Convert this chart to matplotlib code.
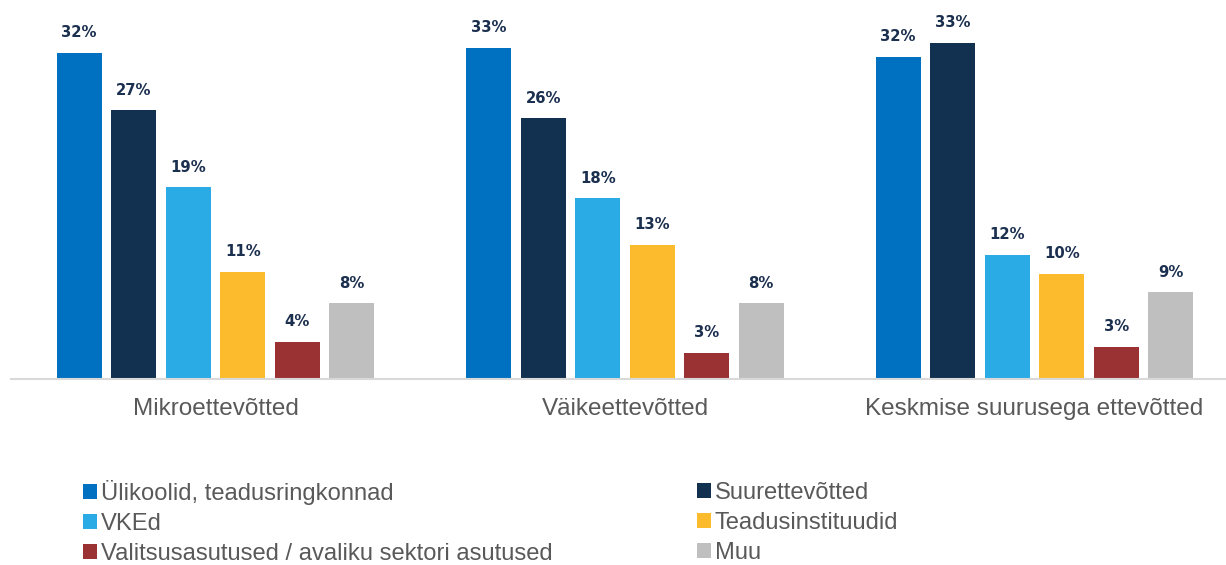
import numpy as np
import matplotlib
matplotlib.use("Agg")
import matplotlib.pyplot as plt

categories = ["Mikroettevõtted", "Väikeettevõtted", "Keskmise suurusega ettevõtted"]
series_names = [
    "Ülikoolid, teadusringkonnad",
    "Suurettevõtted",
    "VKEd",
    "Teadusinstituudid",
    "Valitsusasutused / avaliku sektori asutused",
    "Muu",
]
ulikoolid = [32.3, 32.8, 31.9]
suurettevotted = [26.6, 25.8, 33.3]
vked = [19.0, 17.9, 12.3]
teadusinst = [10.6, 13.3, 10.4]
valitsus = [3.7, 2.6, 3.2]
muu = [7.5, 7.5, 8.6]
series_values = [ulikoolid, suurettevotted, vked, teadusinst, valitsus, muu]
colors = ["#0070C0", "#12304F", "#2BABE6", "#FBBB2D", "#9A3234", "#BFBFBF"]

W, H = 1226, 565
fig = plt.figure(figsize=(W / 100, H / 100), dpi=100)
ax = fig.add_axes([11 / W, 186 / H, (W - 11) / W, 363.6 / H])

x = np.arange(len(categories))
pitch = 0.1331
width = 0.1099
handles = []
for i, (name, vals, col) in enumerate(zip(series_names, series_values, colors)):
    pos = x + (i - 2.5) * pitch
    bars = ax.bar(pos, vals, width, color=col, label=name)
    handles.append(bars)
    for b, v in zip(bars, vals):
        ax.annotate(f"{v:.0f}%", (b.get_x() + b.get_width() / 2, v),
                    xytext=(0, 9), textcoords="offset points",
                    ha="center", va="bottom", fontsize=10.7,
                    fontweight="bold", color="#1B2F4E", family="DejaVu Sans")

ax.set_xlim(-0.4994, 2.4677)
ax.set_ylim(0, 36)
ax.set_xticks(x)
ax.set_xticklabels(categories, fontsize=17.5, color="#595959", family="Liberation Sans")
ax.tick_params(axis="x", length=0, pad=14)
ax.set_yticks([])
for s in ["top", "right", "left"]:
    ax.spines[s].set_visible(False)
ax.spines["bottom"].set_color("#D9D9D9")
ax.spines["bottom"].set_linewidth(1.5)

leg_kw = dict(frameon=False, loc="upper left", borderaxespad=0, borderpad=0,
              handlelength=0.6, handleheight=0.6, handletextpad=0.15,
              labelspacing=0.34, labelcolor="#595959",
              prop={"family": "Liberation Sans", "size": 17.1})
leg1 = fig.legend([handles[0], handles[2], handles[4]],
                  [series_names[0], series_names[2], series_names[4]],
                  bbox_to_anchor=(83 / W, 1 - 480 / H), **leg_kw)
leg2 = fig.legend([handles[1], handles[3], handles[5]],
                  [series_names[1], series_names[3], series_names[5]],
                  bbox_to_anchor=(697 / W, 1 - 482 / H), **leg_kw)

fig.savefig("out.png", dpi=100)
